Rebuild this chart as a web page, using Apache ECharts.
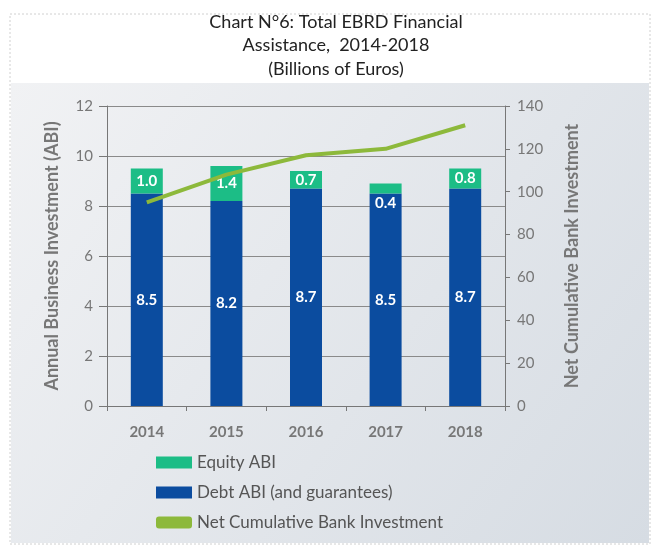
<!DOCTYPE html>
<html><head><meta charset="utf-8">
<script src="https://cdn.jsdelivr.net/npm/echarts@6/dist/echarts.min.js"></script>
<style>html,body{margin:0;padding:0;background:#fff}#c{width:655px;height:554px}</style>
</head><body><div id="c"></div>
<script>
const years = ['2014','2015','2016','2017','2018'];
const debtABI = [8.5, 8.2, 8.7, 8.5, 8.7];
const equityABI = [1.0, 1.4, 0.7, 0.4, 0.8];
const netCumulative = [95, 108, 117, 120, 131];
const leftTicks = [0, 2, 4, 6, 8, 10, 12];
const rightTicks = [0, 20, 40, 60, 80, 100, 120, 140];

const FONT = 'Lato, "Open Sans", sans-serif';
const chart = echarts.init(document.getElementById('c'), null, {renderer: 'canvas'});
chart.setOption({
  animation: false,
  textStyle: {fontFamily: FONT},
  graphic: [
    {type: 'rect', z: -10, shape: {x: 10, y: 14, width: 640, height: 530},
     style: {fill: '#fff', stroke: '#d0d0d0', lineWidth: 1, lineDash: [2, 2]}},
    {type: 'rect', z: -9, shape: {x: 11, y: 83, width: 638, height: 460},
     style: {fill: new echarts.graphic.LinearGradient(0, 0, 1, 1, [
       {offset: 0, color: '#f1f2f4'}, {offset: 1, color: '#d6dce3'}])}},
    {type: 'text', x: 336, y: 10, style: {
      text: 'Chart N°6: Total EBRD Financial\nAssistance,  2014-2018\n(Billions of Euros)',
      font: '18px ' + FONT, fill: '#222', align: 'center', verticalAlign: 'top', lineHeight: 23.5}}
  ],
  grid: {left: 107, right: 150, top: 106, bottom: 148, containLabel: false},
  legend: {
    orient: 'vertical', left: 151, top: 449, itemGap: 13, itemWidth: 36, itemHeight: 12,
    textStyle: {fontSize: 17, color: '#555', fontFamily: FONT},
    data: [
      {name: 'Equity ABI', icon: 'rect'},
      {name: 'Debt ABI (and guarantees)', icon: 'rect'},
      {name: 'Net Cumulative Bank Investment', icon: 'roundRect'}
    ]
  },
  xAxis: {
    type: 'category', data: years,
    axisLine: {lineStyle: {color: '#777', width: 1}},
    axisTick: {show: true, length: 5, lineStyle: {color: '#777'}},
    axisLabel: {fontSize: 15, fontWeight: 'bold', color: '#777', margin: 19}
  },
  yAxis: [
    {type: 'value', min: 0, max: 12, interval: 2,
     name: 'Annual Business Investment (ABI)', nameLocation: 'middle', nameGap: 46,
     nameTextStyle: {fontSize: 18, fontWeight: 'bold', color: '#777'},
     axisLine: {show: true, lineStyle: {color: '#777'}},
     axisTick: {show: true, length: 8, lineStyle: {color: '#777'}},
     axisLabel: {fontSize: 15, color: '#777', margin: 14},
     splitLine: {lineStyle: {color: '#8a8a8a', width: 1}}},
    {type: 'value', min: 0, max: 140, interval: 20,
     name: 'Net Cumulative Bank Investment', nameLocation: 'middle', nameGap: 58,
     nameRotate: 90,
     nameTextStyle: {fontSize: 18, fontWeight: 'bold', color: '#777'},
     axisLine: {show: true, lineStyle: {color: '#777'}},
     axisTick: {show: true, length: 5, lineStyle: {color: '#777'}},
     axisLabel: {fontSize: 15, color: '#777', margin: 12},
     splitLine: {show: false}}
  ],
  series: [
    {name: 'Debt ABI (and guarantees)', type: 'bar', stack: 'abi', barWidth: 32,
     data: debtABI, itemStyle: {color: '#0b4c9f'},
     label: {show: true, position: 'inside', color: '#fff', fontSize: 15, fontWeight: 'bold',
       formatter: p => p.value.toFixed(1)}},
    {name: 'Equity ABI', type: 'bar', stack: 'abi', barWidth: 32,
     data: equityABI.map((v, i) => v < 0.5 ? {value: v, label: {position: 'bottom', distance: 2}} : v),
     itemStyle: {color: '#1cbd86'},
     label: {show: true, position: 'inside', color: '#fff', fontSize: 15, fontWeight: 'bold',
       formatter: p => p.value.toFixed(1)}},
    {name: 'Net Cumulative Bank Investment', type: 'line', yAxisIndex: 1,
     data: netCumulative, showSymbol: false, symbol: 'none',
     lineStyle: {color: '#8db93b', width: 4}, itemStyle: {color: '#8db93b'}, z: 5}
  ]
});
</script></body></html>
